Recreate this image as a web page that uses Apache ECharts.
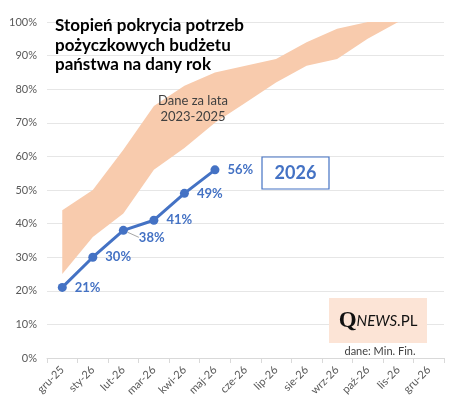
<!DOCTYPE html>
<html>
<head>
<meta charset="utf-8">
<script src="https://cdn.jsdelivr.net/npm/echarts@6/dist/echarts.min.js"></script>
<style>html,body{margin:0;padding:0;background:#fff}#c{width:458px;height:409px}</style>
</head>
<body>
<div id="c"></div>
<script>
var categories = ['gru-25','sty-26','lut-26','mar-26','kwi-26','maj-26','cze-26','lip-26','sie-26','wrz-26','paź-26','lis-26','gru-26'];
var bandLower = [25, 36, 43, 56, 62.5, 70, 76, 82, 87, 89, 95, 100, 100];
var bandUpper = [44, 50, 62, 75, 81, 85, 87, 89, 94, 98, 100, 100, 100];
var values2026 = [21, 30, 38, 41, 49, 56];
var yTicks = {min: 0, max: 100, interval: 10};

var FONT = 'Lato, "Liberation Sans", sans-serif';
var BLUE = '#4472C4';
var bandDiff = bandUpper.map(function(u, i){ return +(u - bandLower[i]).toFixed(2); });
var lineData = values2026.map(function(v, i){
  if (i === 2) return {value: v, labelLine: {show: true, lineStyle: {color: '#a6a6a6', width: 1}}};
  return v;
});

var chart = echarts.init(document.getElementById('c'));
chart.setOption({
  animation: false,
  backgroundColor: '#fff',
  textStyle: {fontFamily: FONT},
  grid: {left: 47, right: 14, top: 22, bottom: 51},
  title: {
    text: 'Stopień pokrycia potrzeb\npożyczkowych budżetu\npaństwa na dany rok',
    left: 50, top: 11,
    textStyle: {fontFamily: FONT, fontSize: 17, fontWeight: 'bold', color: '#000', lineHeight: 19.5}
  },
  xAxis: {
    type: 'category',
    data: categories,
    boundaryGap: true,
    axisLine: {lineStyle: {color: '#d9d9d9'}},
    axisTick: {show: true, length: 5, lineStyle: {color: '#d9d9d9'}},
    axisLabel: {rotate: 45, color: '#595959', fontSize: 11, fontFamily: FONT, margin: 10, interval: 0}
  },
  yAxis: {
    type: 'value',
    min: yTicks.min, max: yTicks.max, interval: yTicks.interval,
    axisLine: {show: false},
    axisTick: {show: false},
    splitLine: {lineStyle: {color: '#e6e6e6'}},
    axisLabel: {formatter: '{value}%', color: '#595959', fontSize: 11, fontFamily: FONT, margin: 10}
  },
  series: [
    {
      type: 'line', stack: 'band', data: bandLower, symbol: 'none',
      lineStyle: {width: 0, opacity: 0}, areaStyle: {opacity: 0}, silent: true, z: 1
    },
    {
      type: 'line', stack: 'band', data: bandDiff, symbol: 'none',
      lineStyle: {width: 0, opacity: 0}, areaStyle: {color: '#F8CBAD', opacity: 1}, silent: true, z: 1
    },
    {
      type: 'line', data: lineData, z: 5,
      symbol: 'circle', symbolSize: 9,
      itemStyle: {color: BLUE},
      lineStyle: {color: BLUE, width: 3},
      label: {show: true, position: 'right', distance: 8, formatter: '{c}%', color: BLUE, fontWeight: 'bold', fontSize: 13, fontFamily: FONT},
      labelLayout: function(p){ if (p.dataIndex === 2) return {dx: 3, dy: 7}; return {}; }
    }
  ],
  graphic: [
    {type: 'text', x: 193, y: 109, z: 100, style: {text: 'Dane za lata\n2023-2025', fill: '#404040', font: '13px ' + FONT, lineHeight: 16, textAlign: 'center', textVerticalAlign: 'middle'}},
    {type: 'rect', shape: {x: 262, y: 157, width: 67, height: 32}, style: {fill: '#fff', stroke: BLUE, lineWidth: 1.2}, z: 100},
    {type: 'text', x: 295.5, y: 173, style: {text: '2026', fill: BLUE, font: 'bold 18px ' + FONT, textAlign: 'center', textVerticalAlign: 'middle'}, z: 101},
    {type: 'rect', shape: {x: 329, y: 298, width: 98, height: 45}, style: {fill: '#FCE4D6'}, z: 100},
    {type: 'text', x: 378, y: 321, z: 101, style: {
      rich: {
        q: {font: 'bold 23px "Liberation Serif", "DejaVu Serif", serif', fill: '#111'},
        n: {font: 'italic 15px ' + FONT, fill: '#111'},
        p: {font: '15px ' + FONT, fill: '#111'}
      },
      text: '{q|Q}{n|NEWS}{p|.PL}', textAlign: 'center', textVerticalAlign: 'middle'
    }},
    {type: 'text', x: 380, y: 351, z: 101, style: {text: 'dane: Min. Fin.', fill: '#404040', font: '11px ' + FONT, textAlign: 'center', textVerticalAlign: 'middle'}}
  ]
});
</script>
</body>
</html>
